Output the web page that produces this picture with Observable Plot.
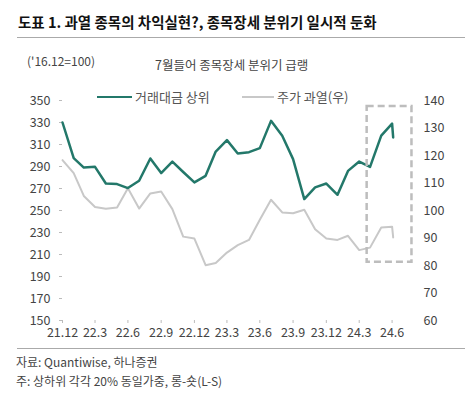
<!DOCTYPE html>
<html><head><meta charset="utf-8">
<script src="https://cdn.jsdelivr.net/npm/d3@7"></script>
<script src="https://cdn.jsdelivr.net/npm/@observablehq/plot@0.6"></script>
<style>
html,body{margin:0;padding:0;background:#fff;}
body{width:467px;height:396px;position:relative;overflow:hidden;font-family:"Noto Sans CJK KR","Noto Sans",sans-serif;color:#333;}
.abs{position:absolute;white-space:nowrap;}
#title{left:18px;top:11px;font-size:14.5px;font-weight:bold;color:#111;line-height:22px;}
.hr{position:absolute;left:17px;width:448px;height:0;border-top:1.5px solid #aaa;}
#unit{left:27px;top:52px;font-size:12px;line-height:18px;color:#444;}
#sub{left:155px;top:56px;font-size:12.5px;line-height:18px;color:#444;}
.leg{top:88px;font-size:13px;line-height:18px;color:#555;display:flex;align-items:center;}
.leg i{display:inline-block;width:35px;height:0;margin-right:3px;}
#chart{position:absolute;left:0;top:80px;}
.foot{left:16px;font-size:12px;line-height:16px;color:#444;}
</style></head><body>
<div id="title" class="abs"></div>
<div class="hr" style="top:37px"></div>
<div id="unit" class="abs"></div>
<div id="sub" class="abs"></div>
<div id="leg1" class="abs leg" style="left:97px"></div>
<div id="leg2" class="abs leg" style="left:242px"></div>
<div id="chart"></div>
<div class="hr" style="top:348px"></div>
<div id="src" class="abs foot" style="top:354px"></div>
<div id="note" class="abs foot" style="top:373px"></div>
<script>
// ---- texts ----
const titleText = "도표 1. 과열 종목의 차익실현?, 종목장세 분위기 일시적 둔화";
const unitText = "('16.12=100)";
const subtitleText = "7월들어 종목장세 분위기 급랭";
const seriesNames = ["거래대금 상위", "주가 과열(우)"];
const sourceText = "자료: Quantiwise, 하나증권";
const noteText = "주: 상하위 각각 20% 동일가중, 롱-숏(L-S)";

// ---- data ----
const dates = ["2021-12-31","2022-01-31","2022-02-28","2022-03-31","2022-04-30","2022-05-31","2022-06-30","2022-07-31","2022-08-31","2022-09-30","2022-10-31","2022-11-30","2022-12-31","2023-01-31","2023-02-28","2023-03-31","2023-04-30","2023-05-31","2023-06-30","2023-07-31","2023-08-31","2023-09-30","2023-10-31","2023-11-30","2023-12-31","2024-01-31","2024-02-29","2024-03-31","2024-04-30","2024-05-31","2024-06-30","2024-07-03"];
const tradingTop = [330,297.6,289,289.7,274.5,274,270.4,277,297.3,284,294.4,285,275.5,281.5,303.6,314,301.8,303,306.7,331.5,317.9,296.7,260.4,271,274.5,264.3,286,294.5,289.7,318,329,316.4];
const overheated = [118.3,113.6,105.3,101.3,100.6,101.1,108.1,100.7,106.2,106.9,100.5,90.5,89.8,80.1,80.9,84.7,87.4,89.3,96.6,103.9,99.3,99.0,100.3,93.2,89.8,89.3,90.8,85.6,86.5,93.8,94.1,90.2];

const xTickDates = ["2021-12-31","2022-03-31","2022-06-30","2022-09-30","2022-12-31","2023-03-31","2023-06-30","2023-09-30","2023-12-31","2024-03-31","2024-06-30"];
const xTickLabels = ["21.12","22.3","22.6","22.9","22.12","23.3","23.6","23.9","23.12","24.3","24.6"];
const xDomain = ["2021-12-31","2024-08-31"];
const leftTicks = [150,170,190,210,230,250,270,290,310,330,350];
const rightTicks = [60,70,80,90,100,110,120,130,140];
const leftDomain = [150,350];
const rightDomain = [60,140];
const highlight = [{from:"2024-04-22", to:"2024-08-24", low:203, high:344.5}];

const green = "#23786a";
const grey = "#c8c8c8";

document.getElementById("title").textContent = titleText;
document.getElementById("unit").textContent = unitText;
document.getElementById("sub").textContent = subtitleText;
document.getElementById("leg1").innerHTML = `<i style="border-top:2.5px solid ${green}"></i>` + seriesNames[0];
document.getElementById("leg2").innerHTML = `<i style="border-top:2px solid ${grey};width:32px"></i>` + seriesNames[1];
document.getElementById("src").textContent = sourceText;
document.getElementById("note").textContent = noteText;

const parse = d3.utcParse("%Y-%m-%d");
const rows = dates.map((d, i) => ({date: parse(d), top: tradingTop[i], hot: overheated[i]}));
const k = (leftDomain[1] - leftDomain[0]) / (rightDomain[1] - rightDomain[0]);
const toLeft = r => leftDomain[0] + (r - rightDomain[0]) * k;
const toRight = l => rightDomain[0] + (l - leftDomain[0]) / k;
const tickMap = new Map(xTickDates.map((d, i) => [+parse(d), xTickLabels[i]]));
const hl = highlight.map(h => ({x1: parse(h.from), x2: parse(h.to), y1: h.low, y2: h.high}));

const chart = Plot.plot({
  width: 467, height: 260,
  marginLeft: 62, marginRight: 53, marginTop: 20, marginBottom: 20,
  style: {fontFamily: '"Noto Sans CJK KR","Noto Sans",sans-serif', fontSize: "12.5px", color: "#444", background: "transparent"},
  x: {type: "utc", domain: xDomain.map(parse)},
  y: {domain: leftDomain},
  marks: [
    Plot.axisX(xTickDates.map(parse), {tickSize: 3, tickPadding: 5, line: true, stroke: "#bbb", fill: "#444", tickFormat: d => tickMap.get(+d), label: null}),
    Plot.axisY(leftTicks, {anchor: "left", tickSize: 3, tickPadding: 9, line: true, stroke: "#bbb", fill: "#444", label: null}),
    Plot.axisY(rightTicks.map(toLeft), {anchor: "right", tickSize: 0, tickPadding: 9, fill: "#444", tickFormat: d => Math.round(toRight(d)), label: null}),
    Plot.line(rows, {x: "date", y: d => toLeft(d.hot), stroke: grey, strokeWidth: 2}),
    Plot.line(rows, {x: "date", y: "top", stroke: green, strokeWidth: 2.5}),
    Plot.rect(hl, {x1: "x1", x2: "x2", y1: "y1", y2: "y2", fill: "none", stroke: "#bdbdbd", strokeWidth: 2.5, strokeDasharray: "7,4"})
  ]
});
document.getElementById("chart").appendChild(chart);
</script>
</body></html>
